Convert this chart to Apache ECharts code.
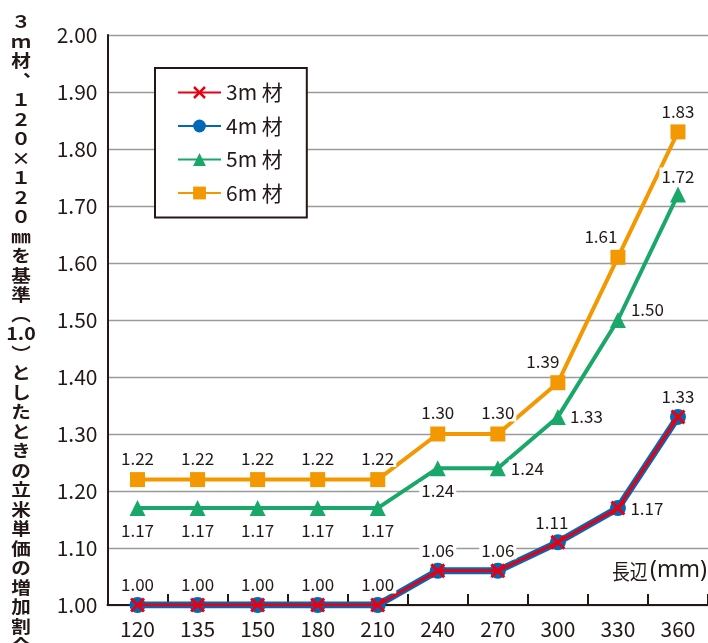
<!DOCTYPE html>
<html>
<head>
<meta charset="utf-8">
<script src="https://cdn.jsdelivr.net/npm/echarts@6/dist/echarts.min.js"></script>
<style>
  html, body { margin: 0; padding: 0; background: #fff; }
  #chart { width: 708px; height: 643px; }
</style>
</head>
<body>
<div id="chart"></div>
<script>
// Long-side lengths (mm)
const categories = ['120', '135', '150', '180', '210', '240', '270', '300', '330', '360'];

// Cost ratio per cubic metre, relative to 3m / 120x120mm = 1.0
const ratio3m = [1.00, 1.00, 1.00, 1.00, 1.00, 1.06, 1.06, 1.11, 1.17, 1.33];
const ratio4m = [1.00, 1.00, 1.00, 1.00, 1.00, 1.06, 1.06, 1.11, 1.17, 1.33];
const ratio5m = [1.17, 1.17, 1.17, 1.17, 1.17, 1.24, 1.24, 1.33, 1.50, 1.72];
const ratio6m = [1.22, 1.22, 1.22, 1.22, 1.22, 1.30, 1.30, 1.39, 1.61, 1.83];

const seriesNames = ['3m 材', '4m 材', '5m 材', '6m 材'];
// Vertical axis title, one glyph per line ("1.0" kept upright as one unit)
const yTitleChars = ['３', 'ｍ', '材', '︑', '１', '２', '０', '×', '１', '２', '０', '㎜', 'を', '基', '準',
  '︵', '1.0', '︶', 'と', 'し', 'た', 'と', 'き', 'の', '立', '米', '単', '価', 'の', '増', '加', '割', '合'];
const xUnitMain = '長辺';
const xUnitSub = '(mm)';

const INK = '#231815';
const FONT = '"Noto Sans CJK JP", "Noto Sans", sans-serif';

// Label placement per point: [position, distance, dx, dy]
const place3m = [
  ['top', 4, 0, 0], ['top', 4, 0, 0], ['top', 4, 0, 0], ['top', 4, 0, 0], ['top', 4, 0, 0],
  ['top', 4, 0, 0], ['top', 4, 0, 0], ['top', 4, -6, 0], ['right', 3, 0, 0], ['top', 4, 0, 0]
];
const place5m = [
  ['bottom', 6, 0, 0], ['bottom', 6, 0, 0], ['bottom', 6, 0, 0], ['bottom', 6, 0, 0], ['bottom', 6, 0, 0],
  ['bottom', 6, 0, 0], ['right', 3, 0, 0], ['right', 2, 0, 0], ['right', 3, 0, -10], ['top', 2, 0, 0]
];
const place6m = [
  ['top', 5, 0, 0], ['top', 5, 0, 0], ['top', 5, 0, 0], ['top', 5, 0, 0], ['top', 5, 0, 0],
  ['top', 5, 0, 0], ['top', 5, 0, 0], ['top', 5, -15, 0], ['top', 5, -17, 0], ['top', 4, 0, 0]
];

const labelBase = {
  show: true,
  fontSize: 17,
  fontFamily: FONT,
  color: INK,
  backgroundColor: '#fff',
  padding: [0, 2],
  formatter: p => Number(p.value).toFixed(2)
};

function withLabels(values, placement) {
  return values.map((v, i) => {
    const [pos, dist, dx, dy] = placement[i];
    return { value: v, label: Object.assign({}, labelBase, { position: pos, distance: dist, offset: [dx, dy] }) };
  });
}

const crossPath = 'path://M0,1.4 L1.4,0 L5,3.6 L8.6,0 L10,1.4 L6.4,5 L10,8.6 L8.6,10 L5,6.4 L1.4,10 L0,8.6 L3.6,5 Z';

const chart = echarts.init(document.getElementById('chart'), null, { renderer: 'canvas' });

chart.setOption({
  animation: false,
  backgroundColor: '#fff',
  textStyle: { fontFamily: FONT, color: INK },
  grid: { left: 107.5, right: -7.5, top: 35, bottom: 38, containLabel: false },
  legend: {
    orient: 'vertical',
    left: 155,
    top: 68,
    data: seriesNames,
    itemWidth: 43,
    itemHeight: 16,
    itemGap: 12.5,
    padding: [14, 24, 14, 22],
    borderColor: INK,
    borderWidth: 2,
    backgroundColor: '#fff',
    textStyle: { fontSize: 21, color: INK, fontFamily: FONT }
  },
  xAxis: {
    type: 'category',
    data: categories,
    boundaryGap: true,
    axisLine: { lineStyle: { color: INK, width: 2 } },
    axisTick: { show: true, inside: true, length: 11, lineStyle: { color: INK, width: 2 } },
    axisLabel: { fontSize: 21, color: INK, margin: 14, fontFamily: FONT },
    splitLine: { show: false }
  },
  yAxis: {
    type: 'value',
    min: 1.0,
    max: 2.0,
    interval: 0.1,
    axisLine: { show: true, lineStyle: { color: INK, width: 2 } },
    axisTick: { show: false },
    axisLabel: { fontSize: 21, color: INK, margin: 10, fontFamily: FONT, formatter: v => v.toFixed(2) },
    splitLine: { show: true, lineStyle: { color: '#9a9a9a', width: 1.3 } }
  },
  series: [
    {
      name: seriesNames[3],
      type: 'line',
      data: withLabels(ratio6m, place6m),
      symbol: 'rect',
      symbolSize: 15,
      color: '#f39800',
      lineStyle: { width: 4 },
      z: 2
    },
    {
      name: seriesNames[2],
      type: 'line',
      data: withLabels(ratio5m, place5m),
      symbol: 'triangle',
      symbolSize: 16,
      color: '#1aa86a',
      lineStyle: { width: 4 },
      z: 3
    },
    {
      name: seriesNames[1],
      type: 'line',
      data: ratio4m,
      symbol: 'circle',
      symbolSize: 16,
      color: '#0068b7',
      lineStyle: { width: 7 },
      label: { show: false },
      z: 4
    },
    {
      name: seriesNames[0],
      type: 'line',
      data: withLabels(ratio3m, place3m),
      symbol: crossPath,
      symbolSize: 15,
      color: '#e60012',
      lineStyle: { width: 3 },
      z: 5
    }
  ],
  graphic: [
    {
      type: 'text',
      x: 21,
      y: 12,
      scaleX: 1.15,
      style: {
        text: yTitleChars.join('\n'),
        fontSize: 17,
        lineHeight: 19.5,
        fontFamily: FONT,
        fontWeight: 'bold',
        fill: INK,
        align: 'center',
        verticalAlign: 'top'
      }
    },
    {
      type: 'text',
      x: 612,
      y: 571,
      scaleX: 0.85,
      style: {
        text: xUnitMain,
        fontSize: 21,
        fontFamily: FONT,
        fill: INK,
        align: 'left',
        verticalAlign: 'middle'
      }
    },
    {
      type: 'text',
      x: 650,
      y: 570,
      style: {
        text: xUnitSub,
        fontSize: 23,
        fontFamily: '"Noto Sans", sans-serif',
        fill: INK,
        align: 'left',
        verticalAlign: 'middle'
      }
    }
  ]
});
</script>
</body>
</html>
